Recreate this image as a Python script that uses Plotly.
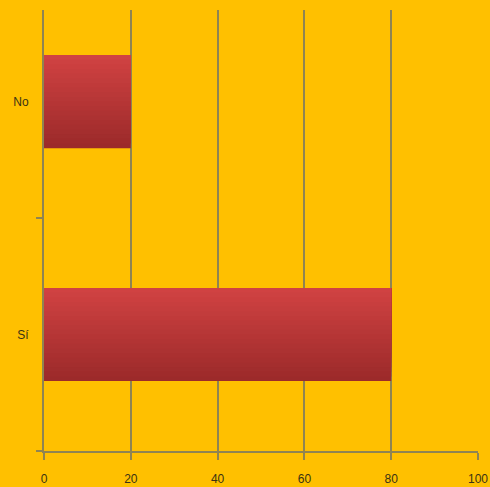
import plotly.graph_objects as go

categories = ["Sí", "No"]
values = [80, 20]
x_ticks = [0, 20, 40, 60, 80, 100]

bg = "#FFC000"
grid = "#8f8452"

# bar shading: light (top) -> dark (bottom)
top_rgb = (208, 66, 66)
bot_rgb = (156, 42, 42)
bar_width = 0.40
n_stripes = 20

fig = go.Figure()
step = bar_width / n_stripes
for i in range(n_stripes):
    t = i / (n_stripes - 1)
    c = tuple(round(b + (a - b) * t) for a, b in zip(top_rgb, bot_rgb))
    fig.add_trace(go.Bar(
        x=values, y=categories, orientation="h",
        width=bar_width - i * step,
        offset=-bar_width / 2 + i * step,
        marker=dict(color="rgb(%d,%d,%d)" % c, line=dict(width=0)),
        hoverinfo="x+y",
    ))

fig.update_layout(
    width=490, height=487,
    barmode="overlay",
    paper_bgcolor=bg, plot_bgcolor=bg,
    margin=dict(l=44, r=12, t=10, b=36),
    showlegend=False,
    font=dict(family="Liberation Sans Narrow, Liberation Sans", size=12, color="#3a3214"),
    xaxis=dict(
        range=[0, 100], tickvals=x_ticks, showgrid=True, gridcolor=grid, gridwidth=2,
        zeroline=False, showline=True, linecolor=grid, linewidth=2,
        ticks="outside", ticklen=7, tickcolor=grid, tickwidth=2,
        ticklabelstandoff=9, automargin=False, fixedrange=True,
    ),
    yaxis=dict(
        type="category", categoryorder="array", categoryarray=categories,
        range=[-0.5, 1.393], showgrid=False, zeroline=False,
        showline=True, linecolor=grid, linewidth=2,
        ticks="outside", tickson="boundaries", ticklen=6, tickcolor=grid, tickwidth=2,
        ticklabelstandoff=11, automargin=False, fixedrange=True,
    ),
)
fig.write_html(
    "out.html",
    config={"displayModeBar": False},
    post_script="document.body.style.margin='0';document.body.style.background='#FFC000';",
)
